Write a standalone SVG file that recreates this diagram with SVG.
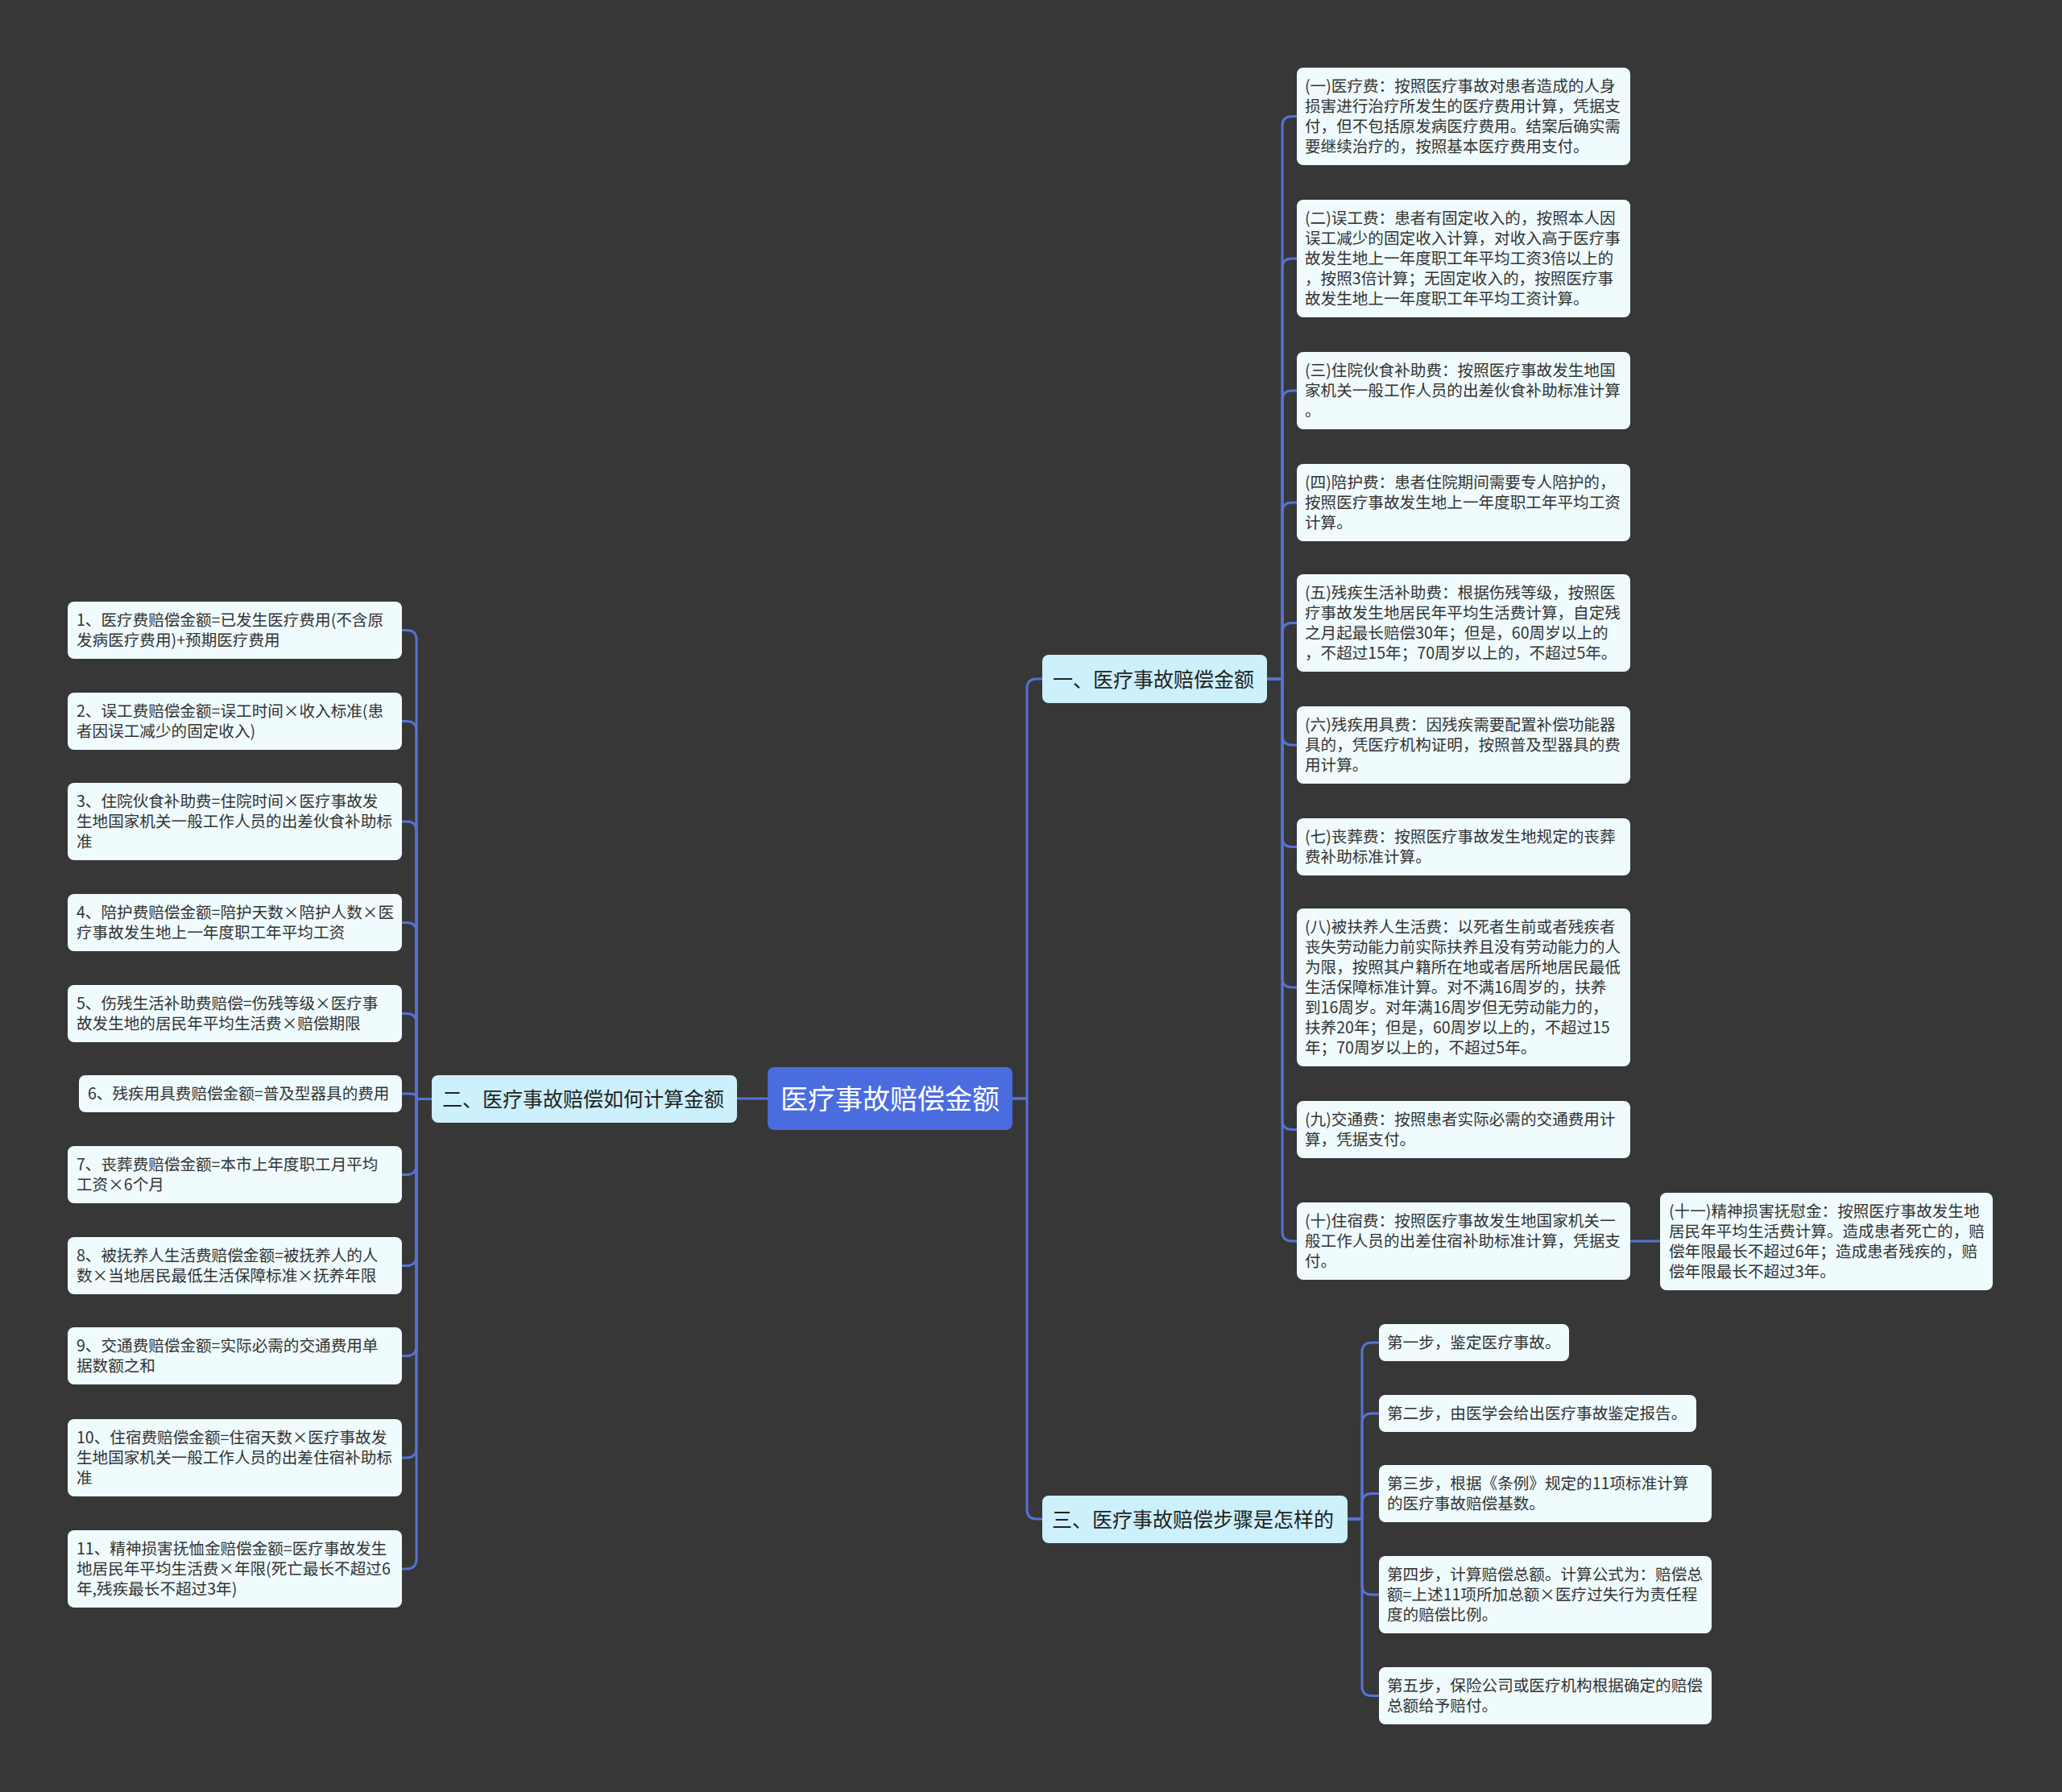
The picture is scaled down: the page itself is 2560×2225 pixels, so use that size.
<svg xmlns="http://www.w3.org/2000/svg" width="2560" height="2225" viewBox="0 0 2560 2225">
<style>
.leaf{fill:#effbfd}
.branch{fill:#ccf0fc}
.root{fill:#4b6cdf}
text{font-family:"Noto Sans CJK SC","Noto Sans",sans-serif}
.t{font-size:19.6px;fill:#333333}
.bt{font-size:25px;fill:#222222}
.rt{font-size:34px;fill:#ffffff}
.edge{fill:none;stroke:#5672d8;stroke-width:3;stroke-linecap:round}
</style>
<rect x="0" y="0" width="2560" height="2225" fill="#373737"/>
<g id="connectors">
<path class="edge" d="M953,1364H915"/>
<path class="edge" d="M1257,1364H1275V855Q1275,843 1287,843H1294"/>
<path class="edge" d="M1257,1364H1275V1874Q1275,1886 1287,1886H1294"/>
<path class="edge" d="M1573,843H1592V156.5Q1592,144.5 1604,144.5H1610"/>
<path class="edge" d="M1573,843H1592V333Q1592,321 1604,321H1610"/>
<path class="edge" d="M1573,843H1592V497Q1592,485 1604,485H1610"/>
<path class="edge" d="M1573,843H1592V636Q1592,624 1604,624H1610"/>
<path class="edge" d="M1573,843H1592V785.5Q1592,773.5 1604,773.5H1610"/>
<path class="edge" d="M1573,843H1592V913Q1592,925 1604,925H1610"/>
<path class="edge" d="M1573,843H1592V1039.5Q1592,1051.5 1604,1051.5H1610"/>
<path class="edge" d="M1573,843H1592V1214Q1592,1226 1604,1226H1610"/>
<path class="edge" d="M1573,843H1592V1390.5Q1592,1402.5 1604,1402.5H1610"/>
<path class="edge" d="M1573,843H1592V1529Q1592,1541 1604,1541H1610"/>
<path class="edge" d="M2024,1541H2061"/>
<path class="edge" d="M536,1364.5H517V794.5Q517,782.5 505,782.5H499"/>
<path class="edge" d="M536,1364.5H517V907.5Q517,895.5 505,895.5H499"/>
<path class="edge" d="M536,1364.5H517V1032Q517,1020 505,1020H499"/>
<path class="edge" d="M536,1364.5H517V1157.5Q517,1145.5 505,1145.5H499"/>
<path class="edge" d="M536,1364.5H517V1270.5Q517,1258.5 505,1258.5H499"/>
<path class="edge" d="M536,1364.5H517Q517,1358 510.5,1358H499"/>
<path class="edge" d="M536,1364.5H517V1446.5Q517,1458.5 505,1458.5H499"/>
<path class="edge" d="M536,1364.5H517V1559.5Q517,1571.5 505,1571.5H499"/>
<path class="edge" d="M536,1364.5H517V1671.5Q517,1683.5 505,1683.5H499"/>
<path class="edge" d="M536,1364.5H517V1798Q517,1810 505,1810H499"/>
<path class="edge" d="M536,1364.5H517V1936Q517,1948 505,1948H499"/>
<path class="edge" d="M1673,1886H1691V1679Q1691,1667 1703,1667H1712"/>
<path class="edge" d="M1673,1886H1691V1767Q1691,1755 1703,1755H1712"/>
<path class="edge" d="M1673,1886H1691V1866.5Q1691,1854.5 1703,1854.5H1712"/>
<path class="edge" d="M1673,1886H1691V1968Q1691,1980 1703,1980H1712"/>
<path class="edge" d="M1673,1886H1691V2093.5Q1691,2105.5 1703,2105.5H1712"/>
</g>
<g id="root">
<rect class="root" x="953" y="1325" width="304" height="78" rx="8"/>
<text class="rt" x="1105" y="1377" text-anchor="middle">医疗事故赔偿金额</text>
</g>
<g id="branch1">
<rect class="branch" x="1294" y="813" width="279" height="60" rx="8"/>
<text class="bt" x="1307" y="852.5">一、医疗事故赔偿金额</text>
</g>
<g id="branch2">
<rect class="branch" x="536" y="1335" width="379" height="59" rx="8"/>
<text class="bt" x="549" y="1374">二、医疗事故赔偿如何计算金额</text>
</g>
<g id="branch3">
<rect class="branch" x="1294" y="1857" width="379" height="59" rx="8"/>
<text class="bt" x="1306" y="1896">三、医疗事故赔偿步骤是怎样的</text>
</g>
<g id="r1">
<rect class="leaf" x="1610" y="84" width="414" height="121" rx="8"/>
<text class="t" x="1620" y="114"><tspan x="1620">(一)医疗费：按照医疗事故对患者造成的人身</tspan><tspan x="1620" dy="25">损害进行治疗所发生的医疗费用计算，凭据支</tspan><tspan x="1620" dy="25">付，但不包括原发病医疗费用。结案后确实需</tspan><tspan x="1620" dy="25">要继续治疗的，按照基本医疗费用支付。</tspan></text>
</g>
<g id="r2">
<rect class="leaf" x="1610" y="248" width="414" height="146" rx="8"/>
<text class="t" x="1620" y="278"><tspan x="1620">(二)误工费：患者有固定收入的，按照本人因</tspan><tspan x="1620" dy="25">误工减少的固定收入计算，对收入高于医疗事</tspan><tspan x="1620" dy="25">故发生地上一年度职工年平均工资3倍以上的</tspan><tspan x="1620" dy="25">，按照3倍计算；无固定收入的，按照医疗事</tspan><tspan x="1620" dy="25">故发生地上一年度职工年平均工资计算。</tspan></text>
</g>
<g id="r3">
<rect class="leaf" x="1610" y="437" width="414" height="96" rx="8"/>
<text class="t" x="1620" y="467"><tspan x="1620">(三)住院伙食补助费：按照医疗事故发生地国</tspan><tspan x="1620" dy="25">家机关一般工作人员的出差伙食补助标准计算</tspan><tspan x="1620" dy="25">。</tspan></text>
</g>
<g id="r4">
<rect class="leaf" x="1610" y="576" width="414" height="96" rx="8"/>
<text class="t" x="1620" y="606"><tspan x="1620">(四)陪护费：患者住院期间需要专人陪护的，</tspan><tspan x="1620" dy="25">按照医疗事故发生地上一年度职工年平均工资</tspan><tspan x="1620" dy="25">计算。</tspan></text>
</g>
<g id="r5">
<rect class="leaf" x="1610" y="713" width="414" height="121" rx="8"/>
<text class="t" x="1620" y="743"><tspan x="1620">(五)残疾生活补助费：根据伤残等级，按照医</tspan><tspan x="1620" dy="25">疗事故发生地居民年平均生活费计算，自定残</tspan><tspan x="1620" dy="25">之月起最长赔偿30年；但是，60周岁以上的</tspan><tspan x="1620" dy="25">，不超过15年；70周岁以上的，不超过5年。</tspan></text>
</g>
<g id="r6">
<rect class="leaf" x="1610" y="877" width="414" height="96" rx="8"/>
<text class="t" x="1620" y="907"><tspan x="1620">(六)残疾用具费：因残疾需要配置补偿功能器</tspan><tspan x="1620" dy="25">具的，凭医疗机构证明，按照普及型器具的费</tspan><tspan x="1620" dy="25">用计算。</tspan></text>
</g>
<g id="r7">
<rect class="leaf" x="1610" y="1016" width="414" height="71" rx="8"/>
<text class="t" x="1620" y="1046"><tspan x="1620">(七)丧葬费：按照医疗事故发生地规定的丧葬</tspan><tspan x="1620" dy="25">费补助标准计算。</tspan></text>
</g>
<g id="r8">
<rect class="leaf" x="1610" y="1128" width="414" height="196" rx="8"/>
<text class="t" x="1620" y="1158"><tspan x="1620">(八)被扶养人生活费：以死者生前或者残疾者</tspan><tspan x="1620" dy="25">丧失劳动能力前实际扶养且没有劳动能力的人</tspan><tspan x="1620" dy="25">为限，按照其户籍所在地或者居所地居民最低</tspan><tspan x="1620" dy="25">生活保障标准计算。对不满16周岁的，扶养</tspan><tspan x="1620" dy="25">到16周岁。对年满16周岁但无劳动能力的，</tspan><tspan x="1620" dy="25">扶养20年；但是，60周岁以上的，不超过15</tspan><tspan x="1620" dy="25">年；70周岁以上的，不超过5年。</tspan></text>
</g>
<g id="r9">
<rect class="leaf" x="1610" y="1367" width="414" height="71" rx="8"/>
<text class="t" x="1620" y="1397"><tspan x="1620">(九)交通费：按照患者实际必需的交通费用计</tspan><tspan x="1620" dy="25">算，凭据支付。</tspan></text>
</g>
<g id="r10">
<rect class="leaf" x="1610" y="1493" width="414" height="96" rx="8"/>
<text class="t" x="1620" y="1523"><tspan x="1620">(十)住宿费：按照医疗事故发生地国家机关一</tspan><tspan x="1620" dy="25">般工作人员的出差住宿补助标准计算，凭据支</tspan><tspan x="1620" dy="25">付。</tspan></text>
</g>
<g id="r11">
<rect class="leaf" x="2061" y="1481" width="413" height="121" rx="8"/>
<text class="t" x="2072" y="1511"><tspan x="2072">(十一)精神损害抚慰金：按照医疗事故发生地</tspan><tspan x="2072" dy="25">居民年平均生活费计算。造成患者死亡的，赔</tspan><tspan x="2072" dy="25">偿年限最长不超过6年；造成患者残疾的，赔</tspan><tspan x="2072" dy="25">偿年限最长不超过3年。</tspan></text>
</g>
<g id="l1">
<rect class="leaf" x="84" y="747" width="415" height="71" rx="8"/>
<text class="t" x="95" y="777"><tspan x="95">1、医疗费赔偿金额=已发生医疗费用(不含原</tspan><tspan x="95" dy="25">发病医疗费用)+预期医疗费用</tspan></text>
</g>
<g id="l2">
<rect class="leaf" x="84" y="860" width="415" height="71" rx="8"/>
<text class="t" x="95" y="890"><tspan x="95">2、误工费赔偿金额=误工时间×收入标准(患</tspan><tspan x="95" dy="25">者因误工减少的固定收入)</tspan></text>
</g>
<g id="l3">
<rect class="leaf" x="84" y="972" width="415" height="96" rx="8"/>
<text class="t" x="95" y="1002"><tspan x="95">3、住院伙食补助费=住院时间×医疗事故发</tspan><tspan x="95" dy="25">生地国家机关一般工作人员的出差伙食补助标</tspan><tspan x="95" dy="25">准</tspan></text>
</g>
<g id="l4">
<rect class="leaf" x="84" y="1110" width="415" height="71" rx="8"/>
<text class="t" x="95" y="1140"><tspan x="95">4、陪护费赔偿金额=陪护天数×陪护人数×医</tspan><tspan x="95" dy="25">疗事故发生地上一年度职工年平均工资</tspan></text>
</g>
<g id="l5">
<rect class="leaf" x="84" y="1223" width="415" height="71" rx="8"/>
<text class="t" x="95" y="1253"><tspan x="95">5、伤残生活补助费赔偿=伤残等级×医疗事</tspan><tspan x="95" dy="25">故发生地的居民年平均生活费×赔偿期限</tspan></text>
</g>
<g id="l6">
<rect class="leaf" x="98" y="1335" width="401" height="46" rx="8"/>
<text class="t" x="109" y="1365">6、残疾用具费赔偿金额=普及型器具的费用</text>
</g>
<g id="l7">
<rect class="leaf" x="84" y="1423" width="415" height="71" rx="8"/>
<text class="t" x="95" y="1453"><tspan x="95">7、丧葬费赔偿金额=本市上年度职工月平均</tspan><tspan x="95" dy="25">工资×6个月</tspan></text>
</g>
<g id="l8">
<rect class="leaf" x="84" y="1536" width="415" height="71" rx="8"/>
<text class="t" x="95" y="1566"><tspan x="95">8、被抚养人生活费赔偿金额=被抚养人的人</tspan><tspan x="95" dy="25">数×当地居民最低生活保障标准×抚养年限</tspan></text>
</g>
<g id="l9">
<rect class="leaf" x="84" y="1648" width="415" height="71" rx="8"/>
<text class="t" x="95" y="1678"><tspan x="95">9、交通费赔偿金额=实际必需的交通费用单</tspan><tspan x="95" dy="25">据数额之和</tspan></text>
</g>
<g id="l10">
<rect class="leaf" x="84" y="1762" width="415" height="96" rx="8"/>
<text class="t" x="95" y="1792"><tspan x="95">10、住宿费赔偿金额=住宿天数×医疗事故发</tspan><tspan x="95" dy="25">生地国家机关一般工作人员的出差住宿补助标</tspan><tspan x="95" dy="25">准</tspan></text>
</g>
<g id="l11">
<rect class="leaf" x="84" y="1900" width="415" height="96" rx="8"/>
<text class="t" x="95" y="1930"><tspan x="95">11、精神损害抚恤金赔偿金额=医疗事故发生</tspan><tspan x="95" dy="25">地居民年平均生活费×年限(死亡最长不超过6</tspan><tspan x="95" dy="25">年,残疾最长不超过3年)</tspan></text>
</g>
<g id="s1">
<rect class="leaf" x="1712" y="1644" width="236" height="46" rx="8"/>
<text class="t" x="1722" y="1674">第一步，鉴定医疗事故。</text>
</g>
<g id="s2">
<rect class="leaf" x="1712" y="1732" width="394" height="46" rx="8"/>
<text class="t" x="1722" y="1762">第二步，由医学会给出医疗事故鉴定报告。</text>
</g>
<g id="s3">
<rect class="leaf" x="1712" y="1819" width="413" height="71" rx="8"/>
<text class="t" x="1722" y="1849"><tspan x="1722">第三步，根据《条例》规定的11项标准计算</tspan><tspan x="1722" dy="25">的医疗事故赔偿基数。</tspan></text>
</g>
<g id="s4">
<rect class="leaf" x="1712" y="1932" width="413" height="96" rx="8"/>
<text class="t" x="1722" y="1962"><tspan x="1722">第四步，计算赔偿总额。计算公式为：赔偿总</tspan><tspan x="1722" dy="25">额=上述11项所加总额×医疗过失行为责任程</tspan><tspan x="1722" dy="25">度的赔偿比例。</tspan></text>
</g>
<g id="s5">
<rect class="leaf" x="1712" y="2070" width="413" height="71" rx="8"/>
<text class="t" x="1722" y="2100"><tspan x="1722">第五步，保险公司或医疗机构根据确定的赔偿</tspan><tspan x="1722" dy="25">总额给予赔付。</tspan></text>
</g>
</svg>
